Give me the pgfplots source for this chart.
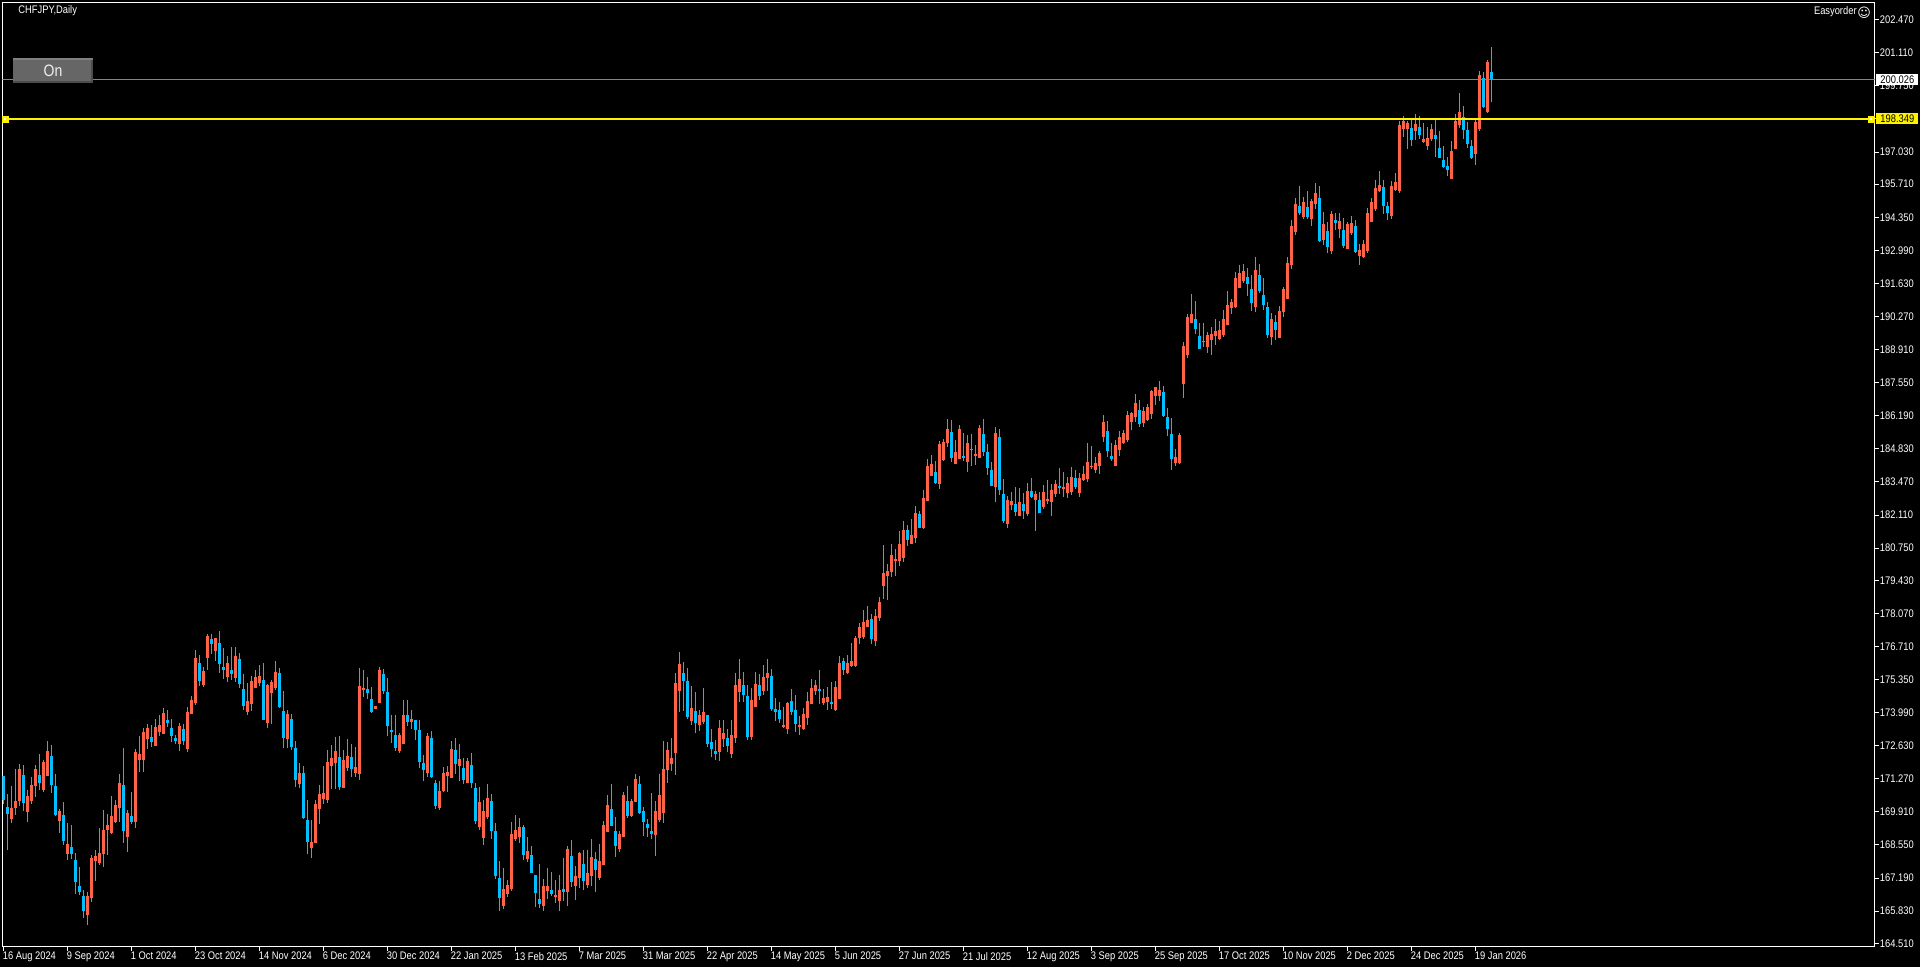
\documentclass[border=0pt]{standalone}
\usepackage{fontspec}
\setmainfont{Liberation Sans}[FakeStretch=0.85]
\newfontfamily\symfont{DejaVu Sans}
\usepackage{pgfplots}
\usepackage{pgfplotstable}
\pgfplotsset{compat=1.18}
\definecolor{bull}{RGB}{255,99,71}
\definecolor{bear}{RGB}{0,191,255}
\definecolor{bidline}{RGB}{119,136,153}

% daily CHFJPY candles
\pgfplotstableread{
i o h l c
0 171.39 171.39 170.24 170.40
1 170.11 170.63 168.35 169.83
2 169.62 170.98 169.47 170.07
3 170.07 171.67 169.78 170.36
4 170.36 171.88 170.15 171.67
5 171.43 171.84 169.95 170.28
6 169.91 170.81 169.50 170.56
7 170.36 171.33 170.24 171.02
8 170.98 171.84 170.54 171.67
9 171.43 172.29 170.81 171.10
10 170.81 172.04 170.74 171.96
11 171.39 172.83 171.39 172.41
12 172.21 172.66 170.67 171.02
13 170.98 171.47 169.74 169.78
14 169.54 170.03 169.03 169.95
15 169.78 170.32 168.55 168.72
16 168.18 169.44 167.93 168.59
17 168.47 169.37 167.98 168.18
18 167.93 168.22 166.54 167.03
19 166.87 167.66 166.50 166.62
20 166.46 166.70 165.55 165.84
21 165.67 166.62 165.26 166.46
22 166.37 168.14 166.21 168.02
23 167.89 168.35 167.07 168.10
24 167.81 169.24 167.73 168.22
25 168.18 169.99 167.65 169.17
26 169.17 169.83 168.14 169.37
27 169.04 170.56 169.00 169.74
28 169.50 170.40 169.44 170.19
29 170.07 171.47 169.50 171.10
30 171.02 172.54 168.62 169.13
31 168.88 169.99 168.26 169.87
32 169.74 170.73 169.41 169.50
33 169.50 172.50 169.25 172.37
34 172.04 173.03 171.55 172.29
35 172.04 173.36 171.55 173.19
36 172.91 173.52 172.50 173.36
37 172.99 173.48 172.58 172.78
38 172.62 173.73 172.62 173.40
39 173.19 173.89 173.03 173.48
40 173.11 174.18 173.11 173.98
41 173.69 174.10 173.40 173.56
42 173.36 173.73 172.78 173.03
43 172.95 173.07 172.70 172.83
44 172.70 173.55 172.41 173.44
45 173.32 173.52 172.66 172.83
46 172.50 174.21 172.37 174.02
47 173.93 174.67 173.93 174.51
48 174.39 176.57 174.31 176.24
49 176.03 176.36 175.09 175.29
50 175.13 175.87 175.05 175.70
51 176.24 177.22 175.75 177.14
52 177.02 177.22 176.40 176.81
53 176.53 177.06 176.12 177.06
54 176.85 177.35 175.62 175.99
55 175.87 176.65 175.38 175.75
56 175.46 176.32 175.25 176.03
57 175.75 176.69 175.33 175.58
58 175.42 176.69 175.25 176.32
59 176.20 176.44 175.01 175.17
60 174.96 175.58 174.10 174.27
61 174.02 175.21 173.90 174.47
62 174.35 175.50 174.06 175.29
63 175.01 175.75 175.01 175.46
64 175.21 175.95 175.09 175.50
65 175.33 176.03 173.69 173.69
66 173.56 175.17 173.36 175.13
67 174.80 175.33 173.52 175.25
68 175.01 176.12 174.92 175.66
69 175.62 175.83 174.18 174.22
70 174.06 174.88 172.54 172.95
71 172.91 174.10 172.54 173.93
72 173.73 173.93 172.46 172.58
73 172.54 172.83 170.93 171.22
74 171.06 171.92 170.89 171.51
75 171.51 171.78 169.61 169.65
76 169.58 170.40 168.18 168.67
77 168.43 169.58 168.02 168.67
78 168.63 170.40 168.63 170.24
79 170.03 171.02 169.41 170.65
80 170.44 171.80 170.24 170.69
81 170.40 172.46 170.29 171.96
82 171.80 172.66 170.85 172.13
83 171.92 172.99 170.85 172.41
84 172.17 173.03 170.81 170.93
85 170.89 172.46 170.88 172.04
86 171.72 172.91 171.59 172.21
87 172.17 172.70 171.35 171.67
88 171.51 172.58 171.35 171.76
89 171.47 175.83 171.22 175.09
90 174.92 175.75 174.64 175.01
91 174.96 175.46 174.55 174.80
92 174.55 175.05 173.98 174.02
93 174.14 174.27 174.14 174.27
94 174.39 175.87 174.39 175.75
95 175.58 175.79 174.76 174.88
96 174.84 175.42 173.03 173.44
97 173.28 173.89 172.74 173.19
98 173.07 173.89 172.41 172.54
99 172.41 173.14 172.33 173.07
100 172.70 174.51 172.70 173.89
101 173.89 174.51 173.44 173.61
102 173.61 174.10 173.32 173.73
103 173.69 173.69 172.87 173.28
104 173.28 173.69 171.72 171.96
105 171.92 172.25 171.18 171.63
106 171.51 173.15 171.35 173.03
107 172.95 173.24 171.30 171.35
108 171.10 171.22 170.03 170.15
109 170.07 171.18 169.99 170.77
110 170.77 171.76 170.73 171.51
111 171.39 171.80 170.73 171.55
112 171.30 172.83 171.30 172.50
113 172.46 172.95 171.47 171.88
114 171.80 172.70 171.18 172.09
115 171.72 172.13 171.06 171.22
116 171.10 172.13 171.10 172.00
117 171.84 172.33 170.89 171.10
118 170.89 171.10 169.41 169.54
119 169.29 170.95 169.17 170.32
120 168.84 170.40 168.56 169.95
121 169.71 171.06 169.62 170.49
122 170.36 170.65 168.80 169.13
123 169.13 169.46 167.16 167.28
124 167.20 167.90 165.84 166.38
125 166.05 167.61 165.93 166.75
126 166.54 167.12 166.42 166.91
127 166.75 169.50 166.66 169.01
128 168.80 169.79 168.72 169.17
129 168.88 169.66 168.64 169.30
130 169.30 169.38 167.94 168.14
131 167.98 168.88 167.86 168.31
132 168.14 168.51 167.40 167.40
133 167.32 167.32 166.01 166.58
134 166.34 167.77 165.97 166.13
135 166.05 167.16 165.84 166.87
136 166.66 167.61 166.34 166.87
137 166.71 167.45 166.46 166.54
138 166.42 167.12 166.17 166.50
139 166.25 167.32 165.84 166.71
140 166.75 168.02 166.24 166.62
141 166.62 168.51 166.05 168.39
142 168.10 168.76 166.83 167.03
143 166.87 167.69 166.30 167.28
144 167.20 168.27 166.79 168.23
145 167.77 168.35 166.71 167.08
146 166.91 168.35 166.79 167.40
147 167.28 168.80 166.87 168.06
148 167.98 168.27 166.62 167.53
149 167.20 168.60 167.12 167.90
150 167.73 169.54 167.73 169.38
151 169.09 170.61 169.09 170.20
152 170.03 171.06 169.34 169.34
153 169.13 169.71 168.06 168.51
154 168.39 169.13 168.27 169.01
155 168.88 170.73 168.88 170.61
156 170.36 170.98 169.66 169.75
157 169.75 170.45 169.71 170.36
158 170.32 171.47 170.32 171.27
159 171.06 171.39 169.83 169.87
160 169.95 170.12 168.93 169.50
161 169.42 169.62 168.88 169.25
162 169.13 170.69 168.80 169.01
163 168.97 170.36 168.10 169.95
164 169.58 171.47 169.50 170.61
165 169.87 172.83 169.46 171.68
166 171.64 172.79 171.10 172.46
167 171.88 172.95 171.60 172.13
168 172.34 175.62 171.43 175.21
169 174.88 176.49 174.02 175.99
170 175.62 176.08 174.06 175.30
171 175.30 175.83 173.73 173.82
172 173.65 175.09 173.49 174.19
173 174.06 174.84 173.16 173.57
174 173.49 174.10 173.24 173.90
175 173.61 174.99 173.53 174.02
176 173.90 173.90 172.58 172.71
177 172.79 173.32 172.17 172.50
178 172.42 172.87 172.05 172.30
179 172.38 173.69 172.01 173.36
180 172.91 173.69 172.58 173.16
181 172.95 173.32 172.38 172.62
182 172.30 173.69 172.13 173.08
183 172.95 175.62 172.75 175.13
184 174.84 176.20 174.43 175.38
185 175.13 175.67 174.43 174.72
186 174.68 175.13 172.87 172.99
187 172.99 175.01 172.87 174.51
188 174.23 175.67 174.23 175.17
189 175.13 175.58 174.51 174.68
190 174.88 175.95 174.72 175.46
191 175.42 176.20 174.88 175.62
192 175.50 175.79 174.06 174.14
193 174.14 174.60 173.65 174.02
194 174.10 174.43 173.57 173.73
195 173.40 174.23 173.36 173.49
196 173.32 174.43 173.12 174.39
197 174.47 174.97 173.90 174.02
198 174.10 174.72 173.20 173.53
199 173.40 173.86 173.08 173.49
200 173.32 174.19 173.28 173.94
201 173.77 174.84 173.49 174.47
202 174.35 175.38 174.35 175.01
203 174.88 175.34 174.72 175.13
204 174.97 175.75 174.35 174.88
205 174.39 174.97 174.31 174.60
206 174.43 175.05 174.10 174.64
207 174.43 175.25 174.14 174.35
208 174.10 175.30 174.06 175.05
209 174.56 176.32 174.56 176.03
210 176.12 176.24 175.54 175.75
211 175.62 176.36 175.58 176.03
212 175.91 176.86 175.87 176.12
213 175.91 177.14 175.87 177.06
214 177.06 177.68 176.82 177.51
215 177.10 178.21 177.02 177.72
216 177.51 178.38 177.51 177.80
217 177.84 178.05 176.82 177.02
218 176.94 178.25 176.73 177.97
219 177.88 178.75 177.76 178.54
220 179.20 180.88 178.67 179.73
221 179.61 180.10 178.62 179.81
222 179.77 180.92 179.56 180.47
223 180.22 180.71 179.61 180.30
224 180.22 181.45 180.02 180.92
225 180.34 181.87 180.18 181.50
226 181.50 181.70 180.84 181.08
227 180.92 181.95 180.92 181.29
228 181.17 182.48 180.96 182.19
229 182.15 182.28 181.58 181.58
230 181.58 183.14 181.54 182.81
231 182.69 184.41 182.69 184.13
232 183.71 184.58 183.71 184.21
233 183.88 184.33 183.39 183.43
234 183.39 185.15 183.18 185.03
235 184.37 185.24 184.33 185.11
236 185.07 186.06 184.91 185.65
237 185.52 186.02 184.29 184.45
238 184.21 185.19 184.21 184.70
239 184.41 185.81 184.41 185.65
240 184.54 185.48 184.33 184.45
241 184.29 185.40 183.88 185.07
242 184.78 185.44 184.13 184.82
243 184.54 184.99 184.17 184.62
244 184.45 185.81 184.45 185.69
245 185.44 186.06 184.54 184.70
246 184.70 185.03 183.76 184.04
247 183.96 184.29 183.30 183.30
248 183.26 185.73 182.65 185.48
249 185.32 185.65 182.93 183.14
250 182.98 183.59 181.78 181.87
251 181.74 182.89 181.58 182.73
252 182.52 183.06 182.32 182.69
253 182.56 183.26 182.07 182.24
254 182.07 183.22 182.07 182.65
255 182.56 183.02 181.95 182.28
256 182.15 183.43 182.07 183.10
257 183.10 183.63 182.81 182.85
258 182.73 183.10 181.45 182.98
259 182.73 183.06 182.19 182.19
260 182.44 183.34 182.36 183.06
261 182.69 183.55 182.56 182.77
262 182.65 183.39 182.07 183.14
263 182.98 183.55 182.85 183.39
264 183.30 184.04 182.98 183.22
265 183.18 183.88 182.85 183.26
266 183.02 183.67 182.81 183.43
267 183.06 184.08 182.93 183.67
268 183.63 183.96 183.18 183.26
269 183.02 183.84 182.85 183.63
270 183.55 184.13 183.51 183.80
271 183.59 185.07 183.47 184.29
272 184.08 184.95 184.00 184.13
273 183.96 184.50 183.84 184.25
274 184.13 184.74 183.80 184.66
275 185.32 186.22 185.11 185.93
276 185.56 185.97 184.50 184.74
277 184.54 185.07 184.33 184.41
278 184.13 185.19 184.13 184.99
279 184.78 185.56 184.54 185.32
280 185.07 185.61 185.03 185.48
281 185.19 186.39 185.11 186.22
282 185.93 186.34 185.61 186.30
283 186.14 187.08 185.93 186.71
284 186.43 186.84 185.73 185.85
285 185.89 186.55 185.73 186.39
286 186.02 186.67 185.97 186.55
287 186.26 187.25 186.06 187.21
288 187.00 187.37 186.63 187.37
289 187.00 187.62 186.80 187.25
290 187.17 187.41 186.14 186.18
291 186.14 186.51 185.36 185.65
292 185.44 186.10 183.96 184.41
293 184.25 184.82 184.13 184.50
294 184.25 185.48 184.21 185.40
295 187.50 189.22 186.92 189.06
296 188.69 190.37 188.56 190.25
297 190.00 191.19 190.00 190.37
298 190.17 190.91 189.55 189.76
299 189.47 190.00 188.93 188.93
300 189.26 190.00 189.02 189.22
301 189.02 189.63 188.77 189.51
302 189.30 189.84 188.69 189.55
303 189.47 190.17 189.10 189.67
304 189.34 190.08 189.30 189.71
305 189.51 190.54 189.43 190.17
306 189.92 191.32 189.92 190.74
307 190.62 190.99 190.37 190.87
308 190.66 192.10 190.62 191.85
309 191.44 192.39 191.44 192.06
310 191.73 192.43 191.65 192.14
311 191.89 192.26 191.11 191.61
312 191.40 191.97 190.50 190.82
313 190.66 192.71 190.45 192.18
314 191.97 192.43 191.24 191.32
315 191.15 191.85 190.54 190.74
316 190.66 190.87 189.39 189.51
317 189.43 190.41 189.10 190.17
318 190.04 190.33 189.30 189.71
319 189.39 190.70 189.39 190.50
320 190.45 191.48 190.25 191.40
321 190.99 192.71 190.99 192.47
322 192.39 194.24 192.22 193.99
323 193.74 195.14 193.62 194.89
324 194.81 195.63 194.44 194.52
325 194.36 195.18 194.28 194.97
326 194.77 195.43 194.28 194.36
327 194.28 195.10 193.99 195.02
328 194.89 195.76 194.69 195.34
329 195.14 195.63 193.33 193.37
330 193.41 194.56 193.21 194.07
331 193.78 194.15 192.88 193.13
332 192.96 194.61 192.84 194.48
333 194.24 194.52 193.82 194.11
334 193.87 194.52 193.50 194.19
335 193.82 194.32 193.08 193.17
336 193.04 194.15 193.04 194.07
337 193.70 194.40 193.62 194.11
338 193.99 194.24 192.88 192.92
339 192.76 193.25 192.39 193.00
340 192.71 193.41 192.67 193.25
341 192.96 194.73 192.88 194.52
342 194.15 195.14 194.15 194.97
343 194.69 195.88 194.61 195.55
344 195.43 196.25 195.39 195.67
345 195.59 195.88 194.48 194.81
346 194.81 194.97 194.24 194.52
347 194.40 195.84 194.28 195.63
348 195.47 196.17 195.43 195.80
349 195.43 198.31 195.35 198.15
350 197.98 198.52 197.65 198.31
351 197.98 198.30 197.16 198.23
352 198.02 198.39 197.28 197.53
353 197.90 198.60 197.53 198.19
354 198.06 198.52 197.57 197.73
355 197.45 198.23 197.41 197.57
356 197.28 198.06 197.12 197.61
357 197.57 198.19 197.49 197.98
358 197.73 198.35 196.83 197.57
359 197.20 197.90 196.79 196.79
360 196.71 197.28 196.38 196.42
361 196.46 196.83 196.05 196.30
362 195.93 197.49 195.93 197.08
363 197.16 198.60 197.16 198.31
364 198.15 199.46 198.02 198.68
365 198.47 198.93 197.57 197.94
366 197.94 198.27 197.20 197.37
367 197.28 197.53 196.75 196.79
368 196.95 198.43 196.50 198.27
369 197.98 200.37 197.90 200.20
370 200.08 200.32 198.84 198.89
371 198.68 200.82 198.64 200.73
372 200.32 201.35 199.09 200.00
}\candles

\begin{document}
\begin{tikzpicture}
\path[use as bounding box, fill=black] (0pt,0pt) rectangle (960pt,-483.5pt);
\begin{axis}[
  at={(1.25pt,-473.25pt)}, anchor=south west,
  scale only axis,
  width=936pt, height=472pt,
  xmin=-0.25, xmax=467.75,
  ymin=164.378, ymax=203.177,
  axis line style={white, line width=0.5pt},
  tick style={white, line width=0.5pt},
  major tick length=2pt,
  xtick align=outside, ytick align=outside,
  xtick pos=bottom, ytick pos=right,
  yticklabel pos=right,
  xtick={0,16,...,368},
  xticklabels={16 Aug 2024,9 Sep 2024,1 Oct 2024,23 Oct 2024,14 Nov 2024,6 Dec 2024,30 Dec 2024,22 Jan 2025,13 Feb 2025,7 Mar 2025,31 Mar 2025,22 Apr 2025,14 May 2025,5 Jun 2025,27 Jun 2025,21 Jul 2025,12 Aug 2025,3 Sep 2025,25 Sep 2025,17 Oct 2025,10 Nov 2025,2 Dec 2025,24 Dec 2025,19 Jan 2026},
  ytick={164.51,165.83,167.19,168.55,169.91,171.27,172.63,173.99,175.35,176.71,178.07,179.43,180.75,182.11,183.47,184.83,186.19,187.55,188.91,190.27,191.63,192.99,194.35,195.71,197.03,198.39,199.75,201.11,202.47},
  /pgf/number format/assume math mode=true,
  /pgf/number format/fixed,
  /pgf/number format/fixed zerofill,
  /pgf/number format/precision=3,
  /pgf/number format/1000 sep={},
  ticklabel style={white, font=\fontsize{5.5}{6.5}\selectfont, inner sep=0pt},
  xticklabel style={anchor=north west, xshift=-0.5pt, yshift=-0.6pt},
  yticklabel style={anchor=west, xshift=0.5pt},
  candle/.style={draw=none, no markers, forget plot},
]
% wicks: a candle of the other colour gets a zero length bar
\addplot[candle,
  error bars/.cd, y dir=both, y explicit, error mark=none,
  error bar style={draw=bull, line width=0.5pt}]
  table[x=i, y=c,
    y error plus expr={\thisrow{c}>=\thisrow{o} ? \thisrow{h}-\thisrow{c} : 0},
    y error minus expr={\thisrow{c}>=\thisrow{o} ? \thisrow{c}-\thisrow{l} : 0}] {\candles};
\addplot[candle,
  error bars/.cd, y dir=both, y explicit, error mark=none,
  error bar style={draw=bear, line width=0.5pt}]
  table[x=i, y=c,
    y error plus expr={\thisrow{c}<\thisrow{o} ? \thisrow{h}-\thisrow{c} : 0},
    y error minus expr={\thisrow{c}<\thisrow{o} ? \thisrow{c}-\thisrow{l} : 0}] {\candles};
% bodies
\addplot[candle,
  error bars/.cd, y dir=minus, y explicit, error mark=none,
  error bar style={draw=bull, line width=1.5pt}]
  table[x=i, y=c,
    y error minus expr={\thisrow{c}>=\thisrow{o} ? \thisrow{c}-\thisrow{o} : 0}] {\candles};
\addplot[candle,
  error bars/.cd, y dir=plus, y explicit, error mark=none,
  error bar style={draw=bear, line width=1.5pt}]
  table[x=i, y=c,
    y error plus expr={\thisrow{c}<\thisrow{o} ? \thisrow{o}-\thisrow{c} : 0}] {\candles};
% bid line and the drawn level
\addplot[bidline, line width=0.5pt] coordinates {(-0.25,200.026) (467.75,200.026)};
\addplot[yellow, line width=1pt] coordinates {(-0.25,198.38) (467.75,198.38)};
\addplot[only marks, mark=square*, mark size=1.5pt, yellow] coordinates {(0.375,198.38) (466.9,198.38)};
\addplot[only marks, mark=square*, mark size=0.3pt, white] coordinates {(0.375,198.38) (466.9,198.38)};
\end{axis}
\begin{scope}[x=0.5pt, y=-0.5pt]
% price tags over the tick labels
\fill[white] (1876,74) rectangle (1918,85);
\fill[yellow] (1876,113.5) rectangle (1918,124);
\node[anchor=west, inner sep=0pt, black, font=\fontsize{5.5}{6.5}\selectfont] at (1880,79.5) {200.026};
\node[anchor=west, inner sep=0pt, black, font=\fontsize{5.5}{6.5}\selectfont] at (1880,118.8) {198.349};
% On button
\fill[black!60] (13,58) rectangle (93,83);
\fill[black!50] (13,58) rectangle (93,60);
\fill[black!70] (91,60) rectangle (93,83);
\fill[black!70] (13,81) rectangle (93,83);
\node[white!94!black, font=\fontsize{8.25}{10}\selectfont, inner sep=0pt] at (53,71) {On};
\node[anchor=west, inner sep=0pt, white, font=\fontsize{5.5}{6.5}\selectfont] at (18,10.5) {CHFJPY,Daily};
\node[anchor=east, inner sep=0pt, white, font=\fontsize{5.5}{6.5}\selectfont] at (1857,12) {Easyorder};
\node[anchor=center, inner sep=0pt, white, font=\symfont\fontsize{6.5}{7}\selectfont] at (1864,12.5) {☺};
\end{scope}
\end{tikzpicture}
\end{document}
